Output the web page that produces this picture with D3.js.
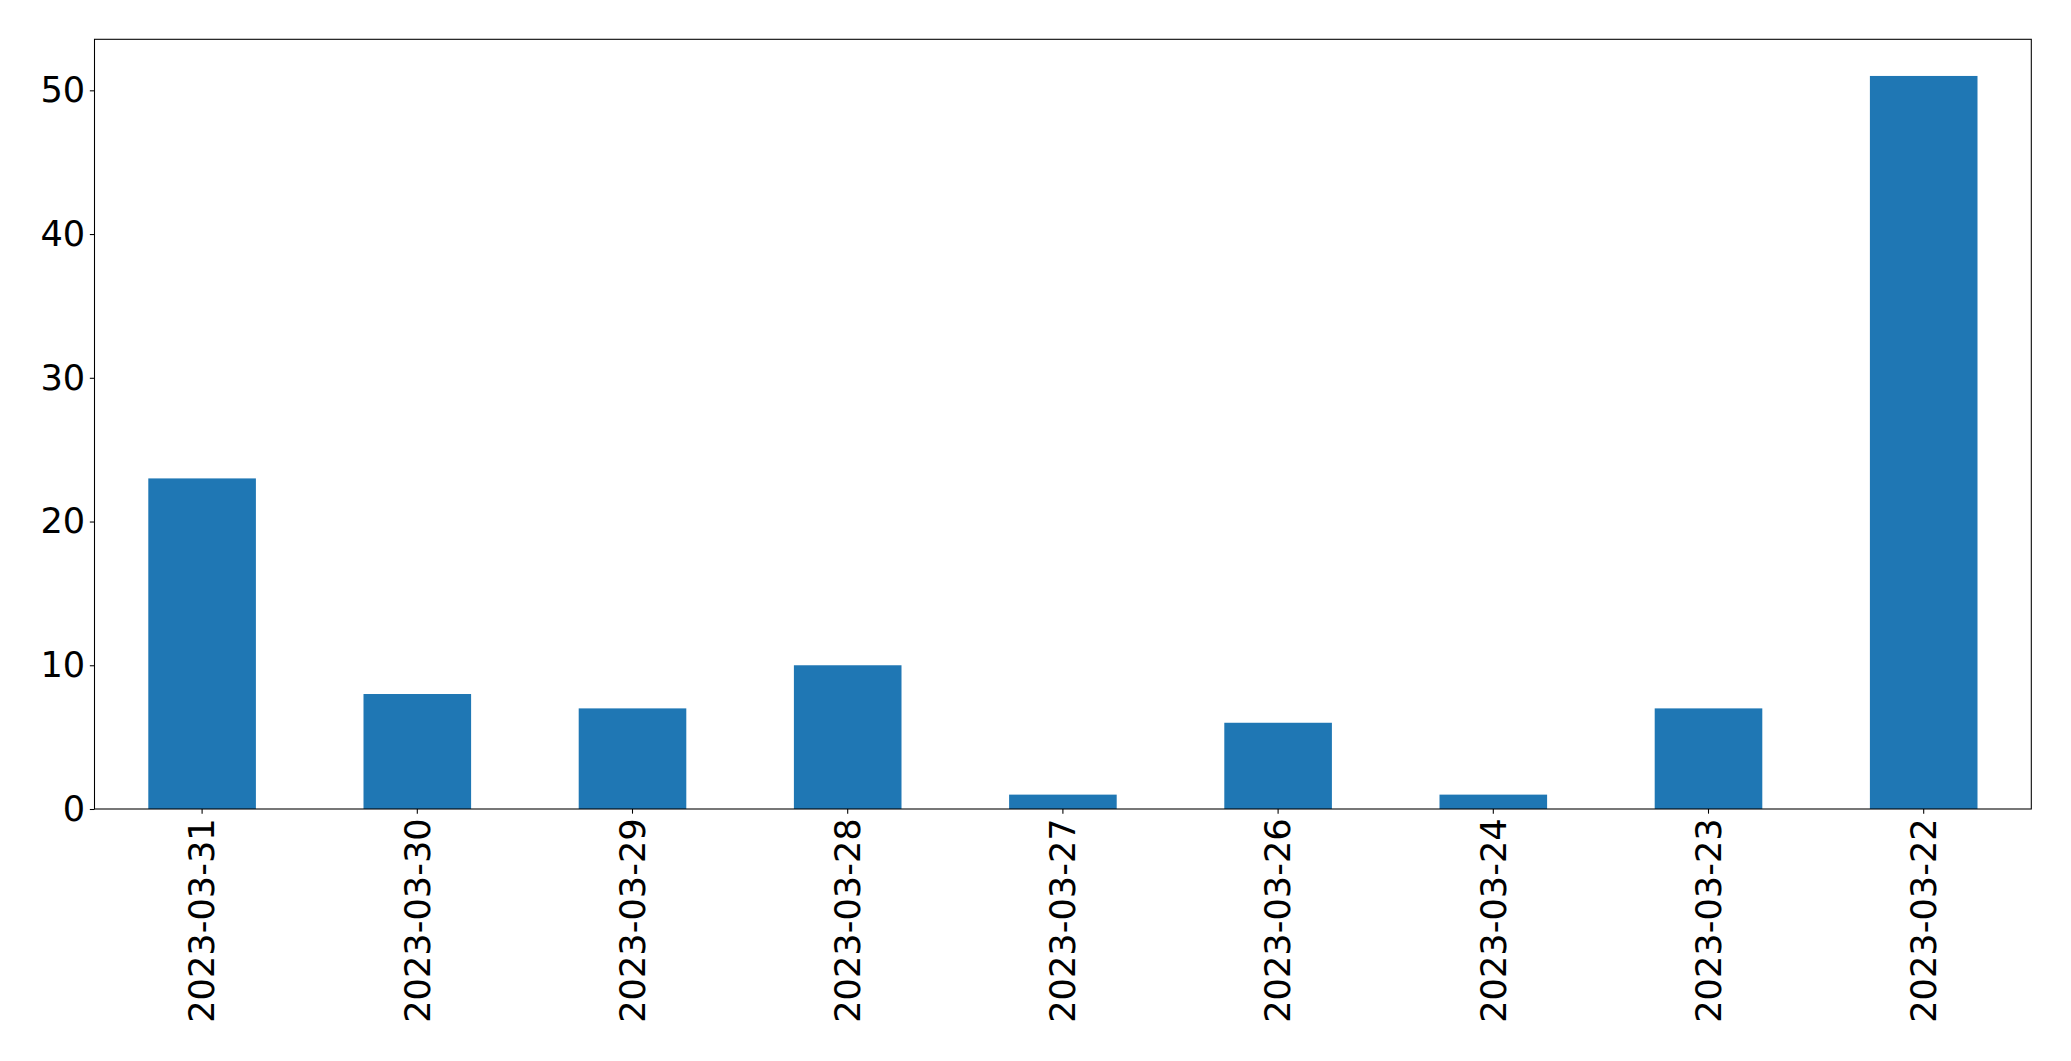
<!DOCTYPE html>
<html>
<head>
<meta charset="utf-8">
<script src="https://cdn.jsdelivr.net/npm/d3@7"></script>
<style>
  body { margin: 0; background: #fff; }
  svg { display: block; }
  text { font-family: "DejaVu Sans", sans-serif; fill: #000; }
</style>
</head>
<body>
<svg width="2071" height="1061"></svg>
<script>
// Data:
var dates = ['2023-03-31', '2023-03-30', '2023-03-29', '2023-03-28', '2023-03-27',
             '2023-03-26', '2023-03-24', '2023-03-23', '2023-03-22'];
var counts = [23, 8, 7, 10, 1, 6, 1, 7, 51];
var yTicks = [0, 10, 20, 30, 40, 50];

var svg = d3.select('svg');

// Plot area, in pixels:
var margin = { left: 94.5, right: 2071 - 2031.3, top: 39.3, bottom: 1061 - 809 };
var width = 2071 - margin.left - margin.right;
var height = 1061 - margin.top - margin.bottom;

var fontSize = 35.2;
var tickLen = 4.67;
var tickPad = 4.67;

// Band scale with half-width bars, like pandas' bar plot:
var x = d3.scaleBand()
  .domain(dates)
  .range([0, width])
  .paddingInner(0.5)
  .paddingOuter(0.25);

var y = d3.scaleLinear()
  .domain([0, d3.max(counts) * 1.05])
  .range([height, 0]);

var g = svg.append('g')
  .attr('transform', 'translate(' + margin.left + ',' + margin.top + ')');

// Bars:
g.selectAll('.bar')
  .data(counts)
  .enter().append('rect')
  .attr('class', 'bar')
  .attr('x', function (d, i) { return x(dates[i]); })
  .attr('y', function (d) { return y(d); })
  .attr('width', x.bandwidth())
  .attr('height', function (d) { return height - y(d); })
  .attr('fill', '#1f77b4');

// X axis with rotated labels:
var xAxis = g.append('g')
  .attr('transform', 'translate(0,' + height + ')')
  .call(d3.axisBottom(x).tickSize(tickLen).tickPadding(tickPad));
xAxis.select('.domain').remove();
xAxis.selectAll('.tick line').attr('stroke', '#000').attr('stroke-width', 1.07);
xAxis.selectAll('.tick text')
  .attr('font-size', fontSize)
  .attr('font-family', '"DejaVu Sans", sans-serif')
  .attr('fill', '#000')
  .attr('text-anchor', 'end')
  .attr('dy', '0.35em')
  .attr('transform', 'translate(0,' + (tickLen + tickPad) + ') rotate(-90)')
  .attr('x', 0)
  .attr('y', 0);

// Y axis:
var yAxis = g.append('g')
  .call(d3.axisLeft(y).tickValues(yTicks).tickSize(tickLen).tickPadding(tickPad));
yAxis.select('.domain').remove();
yAxis.selectAll('.tick line').attr('stroke', '#000').attr('stroke-width', 1.07);
yAxis.selectAll('.tick text')
  .attr('font-size', fontSize)
  .attr('font-family', '"DejaVu Sans", sans-serif')
  .attr('fill', '#000');

// Frame around the plot:
g.append('rect')
  .attr('width', width)
  .attr('height', height)
  .attr('fill', 'none')
  .attr('stroke', '#000')
  .attr('stroke-width', 1.07);
</script>
</body>
</html>
